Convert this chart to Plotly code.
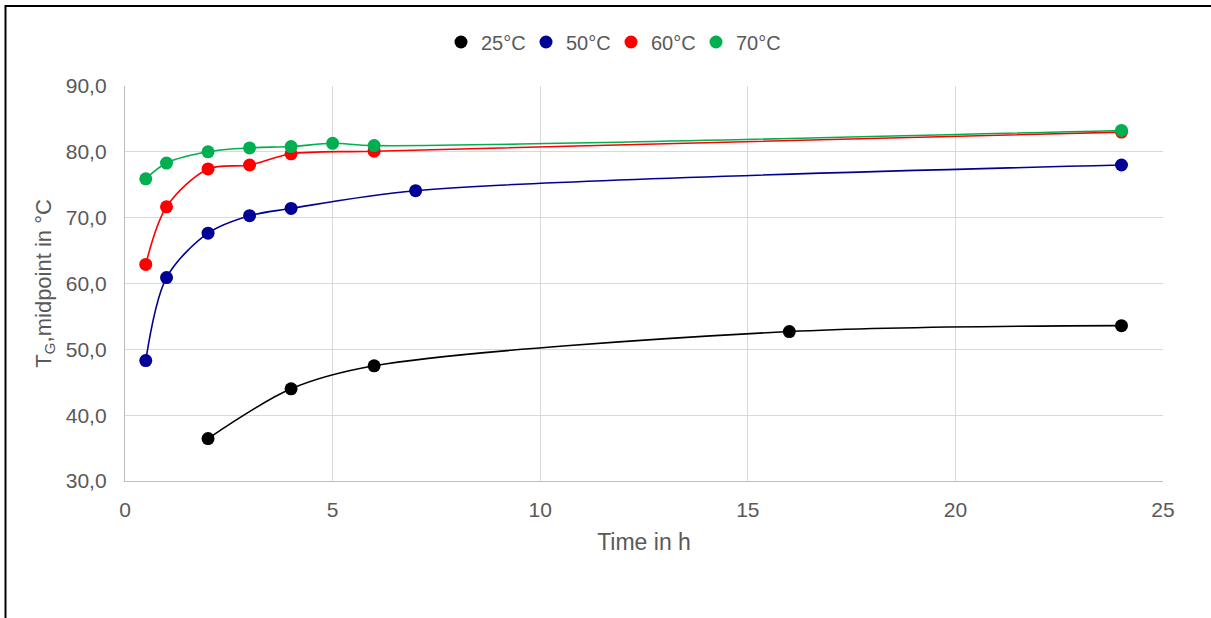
import plotly.graph_objects as go

# ---- data ----
series_names = ["25°C", "50°C", "60°C", "70°C"]
series_colors = ["#000000", "#000096", "#FF0000", "#00B050"]

t_25 = [2, 4, 6, 16, 24]
tg_25 = [36.45, 44.0, 47.5, 52.7, 53.6]

t_50 = [0.5, 1, 2, 3, 4, 7, 24]
tg_50 = [48.3, 60.9, 67.65, 70.3, 71.4, 74.1, 78.0]

t_60 = [0.5, 1, 2, 3, 4, 6, 24]
tg_60 = [62.9, 71.65, 77.4, 78.0, 79.7, 80.1, 83.0]

t_70 = [0.5, 1, 2, 3, 4, 5, 6, 24]
tg_70 = [75.9, 78.3, 80.0, 80.6, 80.8, 81.3, 80.95, 83.25]

x_ticks = [0, 5, 10, 15, 20, 25]
y_ticks = [30, 40, 50, 60, 70, 80, 90]

xs = [t_25, t_50, t_60, t_70]
ys = [tg_25, tg_50, tg_60, tg_70]

W, H = 1211, 618
ML, MR, MT, MB = 125, 48, 86, 137
PW = W - ML - MR
PH = H - MT - MB

fig = go.Figure()

# smoothed lines (no legend entry)
for name, col, x, y in zip(series_names, series_colors, xs, ys):
    fig.add_trace(go.Scatter(
        x=x, y=y, mode="lines", line=dict(color=col, width=1.6, shape="spline", smoothing=0.9),
        showlegend=False, hoverinfo="skip"))

# markers
for name, col, x, y in zip(series_names, series_colors, xs, ys):
    fig.add_trace(go.Scatter(
        x=x, y=y, mode="markers", name=name,
        marker=dict(color=col, size=13, line=dict(width=0))))

grid = "#D9D9D9"
txt = "#595959"
fig.update_layout(
    width=W, height=H,
    margin=dict(l=ML, r=MR, t=MT, b=MB, autoexpand=False),
    paper_bgcolor="white", plot_bgcolor="white",
    separators=", ",
    font=dict(family="Liberation Sans, Arial, sans-serif", color=txt, size=20),
    xaxis=dict(range=[0, 25], tickvals=x_ticks, showgrid=True, gridcolor=grid, gridwidth=1.3,
               showline=True, linecolor="#BFBFBF", linewidth=1.3, zeroline=False,
               ticks="", ticklabelstandoff=10, tickfont=dict(size=21, color=txt),
               title=dict(text="Time in h", font=dict(size=23, color=txt), standoff=13)),
    yaxis=dict(range=[30, 90], tickvals=y_ticks, tickformat=".1f", showgrid=True, gridcolor=grid,
               gridwidth=1.3, showline=True, linecolor="#BFBFBF", linewidth=1.3, zeroline=False,
               ticks="", ticklabelstandoff=13, tickfont=dict(size=21, color=txt),
               title=dict(text="T<sub>G</sub>,midpoint in °C", font=dict(size=22, color=txt),
                          standoff=8)),
    legend=dict(orientation="h", x=(441 - ML) / PW, xanchor="left", y=(H - MB - 42) / PH,
                yanchor="middle", font=dict(size=20, color=txt),
                entrywidth=40, entrywidthmode="pixels",
                bgcolor="rgba(0,0,0,0)", tracegroupgap=0),
    shapes=[dict(type="rect", xref="paper", yref="paper",
                 x0=(5.5 - ML) / PW, x1=(W + 20 - ML) / PW,
                 y0=(H - MB - (H + 20)) / PH, y1=(H - MB - 6) / PH,
                 line=dict(color="#000000", width=2), fillcolor="rgba(0,0,0,0)", layer="above")],
)

fig.write_html("out.html", config={"displayModeBar": False},
               post_script="document.body.style.margin='0px';document.body.style.overflow='hidden';")
